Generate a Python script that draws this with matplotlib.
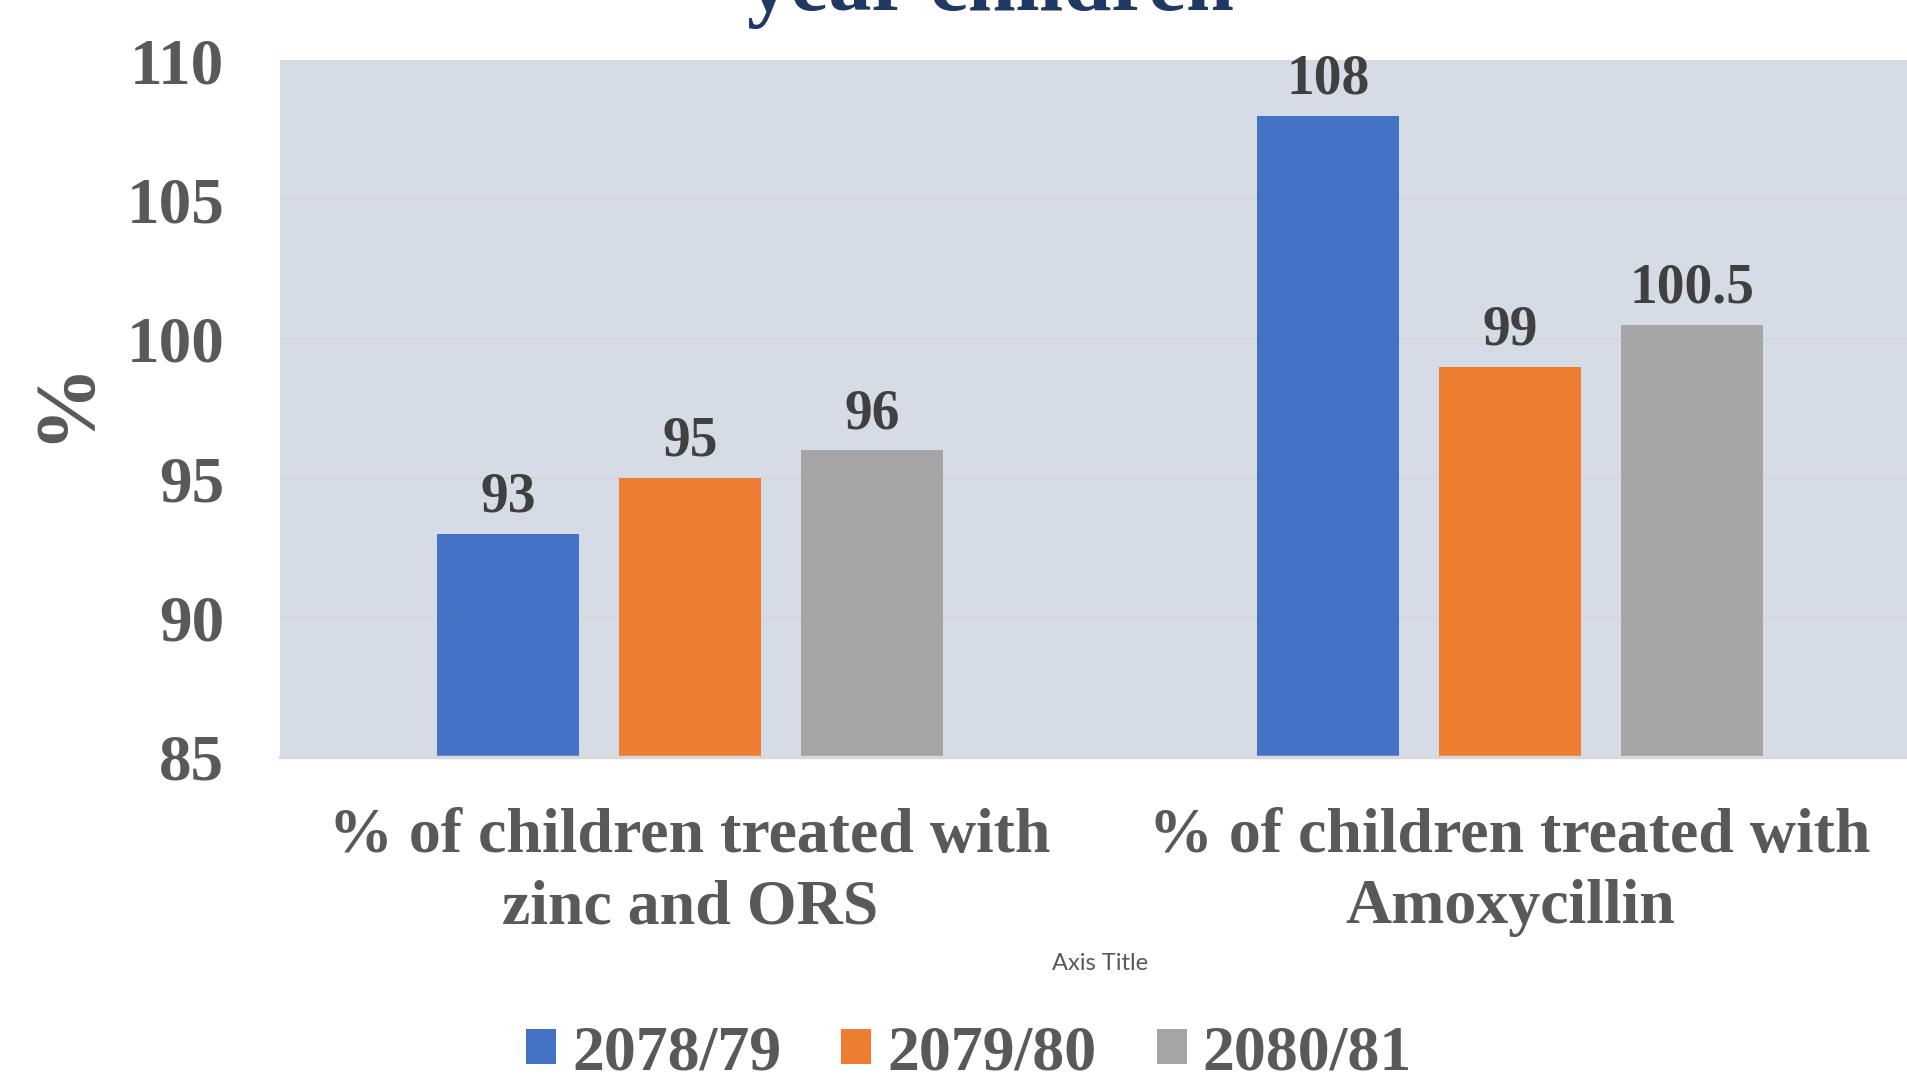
import matplotlib
matplotlib.use("Agg")
import matplotlib.pyplot as plt
import numpy as np

categories = ["% of children treated with\nzinc and ORS", "% of children treated with\nAmoxycillin"]
series_names = ["2078/79", "2079/80", "2080/81"]
values_2078 = [93, 108]
values_2079 = [95, 99]
values_2080 = [96, 100.5]
yticks = [85, 90, 95, 100, 105, 110]
title_text = "year children"

colors = ["#4472C4", "#ED7D31", "#A5A5A5"]
serif = ["Liberation Serif", "DejaVu Serif"]

W, H = 1908, 1082
fig = plt.figure(figsize=(W / 100, H / 100), dpi=100)
ax = fig.add_axes([280 / W, 1 - 757 / H, (1920 - 280) / W, (757 - 60) / H])
ax.set_facecolor("#D6DCE5")

x = np.arange(len(categories))
bw = 0.174
step = 0.222
all_vals = [values_2078, values_2079, values_2080]
for i, (vals, name, c) in enumerate(zip(all_vals, series_names, colors)):
    xs = x + (i - 1) * step
    ax.bar(xs, np.array(vals) - 85, bottom=85, width=bw, color=c, label=name, zorder=3)
    for xi, v in zip(xs, vals):
        lab = f"{v:g}"
        ax.annotate(lab, (xi, v), xytext=(0, 16), textcoords="offset points",
                    ha="center", va="baseline", fontsize=40, fontweight="bold",
                    family=serif, color="#404040", zorder=4)

ax.set_xlim(-0.5, 1.5)
ax.set_ylim(85, 110)
ax.set_yticks(yticks)
ax.set_yticklabels([str(t) for t in yticks], fontsize=47, fontweight="bold",
                   family=serif, color="#595959")
ax.tick_params(axis="y", length=0, pad=40)
ax.set_xticks(x)
ax.set_xticklabels(categories, fontsize=46, fontweight="bold", family=serif,
                   color="#595959", linespacing=1.29)
ax.tick_params(axis="x", length=0, pad=37)
ax.grid(axis="y", color="#D3D6DB", linewidth=1.2, zorder=1)
for s in ["left", "right", "top"]:
    ax.spines[s].set_visible(False)
ax.spines["bottom"].set_color("#D9D9D9")
ax.spines["bottom"].set_linewidth(2.5)
ax.spines["bottom"].set_zorder(5)

fig.text(66 / W, 1 - 401 / H, "%", rotation=90, ha="center", va="center",
         fontsize=61, fontweight="bold", family=serif, color="#595959")
fig.text(1100 / W, 1 - 964 / H, "Axis Title", ha="center", va="center",
         fontsize=17, family=["Lato", "DejaVu Sans"], color="#595959")
fig.text(990 / W, 1 - 10 / H, title_text, ha="center", va="baseline",
         fontsize=62, fontweight="bold", family=serif, color="#1F3864")

handles, labels = ax.get_legend_handles_labels()
leg = fig.legend(handles, labels, loc="center", bbox_to_anchor=(969 / W, 1 - 1054 / H),
                 ncol=3, frameon=False, prop={"family": serif, "weight": "bold", "size": 46},
                 handlelength=0.47, handleheight=0.47, handletextpad=0.25,
                 columnspacing=0.94, borderpad=0)
for t in leg.get_texts():
    t.set_color("#595959")

fig.savefig("out.png", dpi=100, facecolor="white")
